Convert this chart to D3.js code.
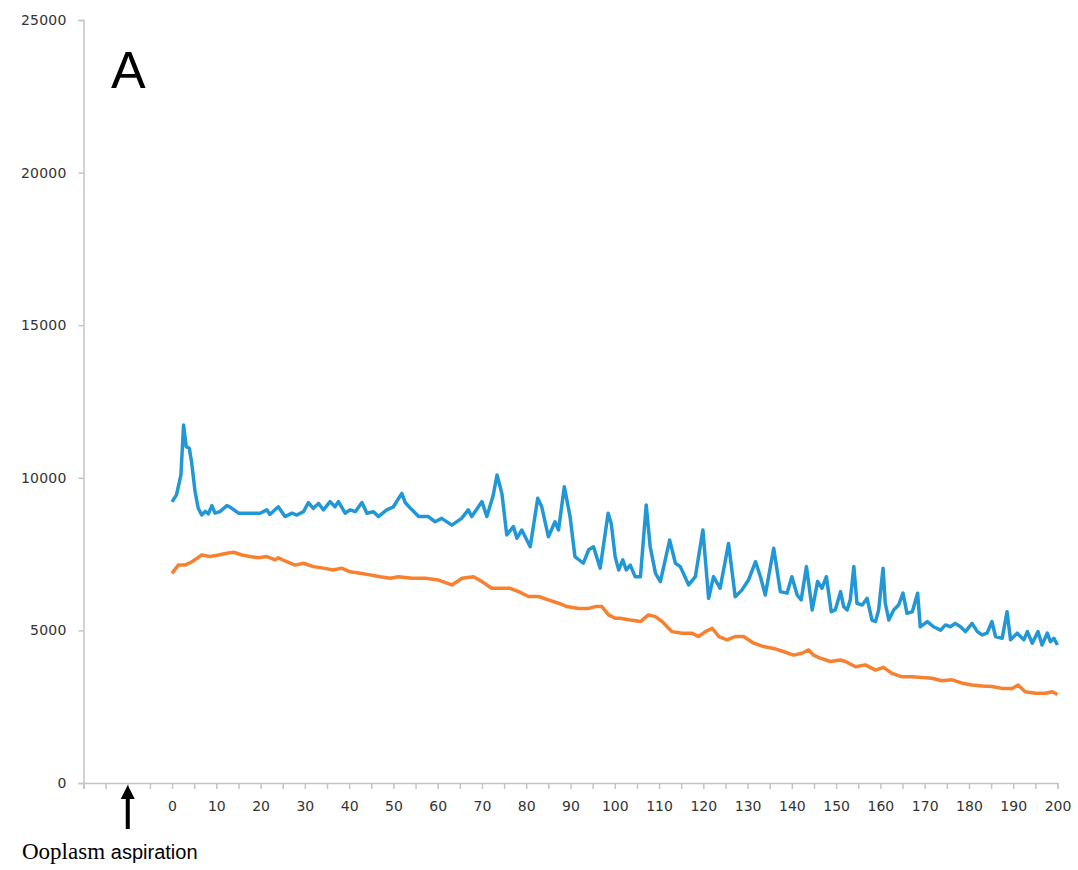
<!DOCTYPE html>
<html>
<head>
<meta charset="utf-8">
<script src="https://cdn.jsdelivr.net/npm/d3@7"></script>
<style>
  body { margin: 0; background: #fff; }
  svg { display: block; }
</style>
</head>
<body>
<svg id="chart" width="1078" height="870"></svg>
<script>
// time points (s) and intensity
var blueT = [0, 1, 2, 2.6, 3.2, 3.9, 4.4, 5.2, 5.9, 6.7, 7.5, 8.2, 9, 9.7, 10.8, 12.4, 13.5, 15, 16.9, 18.4, 19.9,
  21.4, 22.1, 24, 25.5, 27.1, 28.2, 29.7, 30.8, 31.9, 33.1, 34.2, 35.7, 36.8, 37.6, 39.1, 40.2, 41.4, 42.9, 44,
  45.5, 46.6, 48.5, 50, 51.9, 52.7, 54.2, 55.7, 57.9, 59.4, 60.9, 63.2, 65.4, 66.9, 67.7, 70, 71.1, 72.5, 73.4,
  74.5, 75.6, 77.1, 77.9, 79, 80.9, 82.6, 83.5, 85, 86.5, 87.3, 88.6, 89.9, 91, 92.9, 94.1, 95.2, 96.7, 98.5,
  99.2, 100.1, 100.9, 101.8, 102.6, 103.5, 104.6, 105.8, 107.1, 108, 109.2, 110.3, 112.4, 113.7, 114.8, 116.7,
  118.2, 119.9, 121.2, 122.3, 123.8, 125.7, 127.2, 128.7, 130.2, 131.8, 132.9, 134, 135.9, 137.4, 138.9, 140,
  141.2, 142.1, 143.3, 144.6, 145.8, 146.8, 147.8, 148.9, 149.8, 151, 151.7, 152.5, 153.2, 154, 154.7, 155.9,
  157, 158.1, 158.9, 159.6, 160.6, 161.1, 161.9, 163, 164.1, 165.1, 166, 167.2, 168.4, 169, 170.6, 172, 173.6,
  174.7, 175.8, 176.9, 178.1, 179.2, 180.7, 181.9, 183, 184.1, 185.2, 186, 187.5, 188.6, 189.4, 190.9, 192.4,
  193.2, 194.3, 195.6, 196.5, 197.7, 198.4, 199.2, 200];
var blueV = [9210, 9440, 10090, 11730, 11020, 10970, 10530, 9550, 9010, 8780, 8900, 8820, 9090, 8840, 8890, 9090, 9000, 8840, 8840, 8840, 8840,
  8950, 8800, 9050, 8730, 8840, 8780, 8890, 9190, 9000, 9160, 8950, 9220, 9050, 9220, 8840, 8950, 8890, 9190, 8840,
  8890, 8730, 8950, 9050, 9490, 9180, 8950, 8730, 8730, 8560, 8670, 8450, 8670, 8950, 8730, 9220, 8730, 9400, 10090,
  9490, 8130, 8400, 8020, 8290, 7740, 9330, 9050, 8070, 8560, 8290, 9710, 8730, 7420, 7200, 7640, 7740, 7040, 8840,
  8500, 7400, 6980, 7310, 6980, 7140, 6760, 6760, 9110, 7740, 6870, 6600, 7960, 7200, 7090, 6490,
  6760, 8290, 6050, 6760, 6380, 7850, 6100, 6320, 6650, 7250, 6760, 6160, 7690, 6270, 6220, 6760,
  6160, 6000, 7090, 5670, 6600, 6380, 6760, 5610, 5670, 6270, 5780, 5670, 6000, 7090, 5890, 5830,
  6050, 5340, 5290, 5670, 7040, 5890, 5340, 5670, 5830, 6220, 5560, 5610, 6220, 5120, 5290, 5120, 5010,
  5180, 5120, 5230, 5120, 4960, 5230, 4960, 4850, 4910, 5290, 4800, 4740, 5610, 4690, 4910, 4690,
  4960, 4580, 4960, 4520, 4910, 4630, 4740, 4520];

var orangeT = [0, 1.4, 2.9, 4.5, 5.6, 6.7, 8.6, 10.5, 12.4, 13.9, 15.8, 17.6, 19.5, 21.4, 23.3, 24, 25.9, 27.8,
  29.7, 31.9, 34.2, 36.4, 38.3, 40.2, 42.5, 44.7, 47, 49.3, 51.1, 54.2, 57.2, 60.2, 63.2, 65.5, 68.1, 70, 72.2,
  74.5, 76.4, 78.3, 80.5, 82.8, 85, 87.3, 89.2, 91.8, 94.1, 95.6, 97.1, 98.6, 100.1, 101.2, 103.5, 105.8, 107.6,
  109.2, 110.7, 112.9, 115.2, 117.4, 118.9, 120.5, 122, 123.5, 125.4, 127.2, 129.1, 131.4, 133.6, 135.9, 138.2,
  140.4, 142.3, 143.8, 144.9, 146.4, 148.7, 150.9, 152.1, 154.4, 156.6, 158.9, 160.7, 162.6, 164.9, 167.2, 169.4,
  171.7, 173.9, 176.2, 178.5, 180.7, 183, 185.2, 187.5, 189.8, 191.1, 192.7, 195, 197.3, 198.8, 200];
var orangeV = [6870, 7140, 7140, 7250, 7360, 7470, 7420, 7470, 7530, 7560, 7470, 7420, 7380, 7420, 7310, 7380, 7250, 7140,
  7200, 7090, 7040, 6980, 7040, 6920, 6870, 6820, 6760, 6710, 6760, 6710, 6710, 6650, 6490, 6710, 6760, 6600, 6380,
  6380, 6380, 6270, 6110, 6110, 6000, 5890, 5780, 5720, 5720, 5780, 5780, 5510, 5400, 5400, 5340, 5290, 5510,
  5450, 5290, 4960, 4910, 4910, 4800, 4960, 5070, 4800, 4690, 4800, 4800, 4580, 4470, 4410, 4300,
  4190, 4250, 4360, 4190, 4090, 3980, 4030, 3980, 3810, 3870, 3700, 3790, 3590, 3480, 3480, 3460,
  3430, 3350, 3380, 3270, 3210, 3180, 3160, 3100, 3100, 3210, 2990, 2940, 2940, 2990, 2900];

var yTickValues = [0, 5000, 10000, 15000, 20000, 25000];
var xTickLabels = [0, 10, 20, 30, 40, 50, 60, 70, 80, 90, 100, 110, 120, 130, 140, 150, 160, 170, 180, 190, 200];

var svg = d3.select("#chart"),
	x = d3.scaleLinear().domain([-20, 200]).range([83.5, 1057.5]),
	y = d3.scaleLinear().domain([0, 25000]).range([783, 20]),
	axisColor = "#c4c4c4",
	textColor = "#333";

// y axis
var yAxis = svg.append("g")
	.attr("transform", "translate(" + x(-20) + ",0)")
	.call(d3.axisLeft(y).tickValues(yTickValues).tickSize(5).tickPadding(12).tickFormat(d3.format("d")));
yAxis.select(".domain").attr("stroke", axisColor).attr("stroke-width", 1.5);
yAxis.selectAll(".tick line").attr("stroke", axisColor).attr("stroke-width", 1.5);
yAxis.selectAll(".tick text")
	.attr("fill", textColor)
	.style("font", "14px 'DejaVu Sans', sans-serif")
	.style("letter-spacing", "0.2px");

// x axis: minor ticks every 5 s starting at -20, labels only from 0
var xAxis = svg.append("g")
	.attr("transform", "translate(0," + y(0) + ")")
	.call(d3.axisBottom(x).tickValues(d3.range(-20, 201, 5)).tickSizeOuter(0).tickSize(6).tickPadding(12)
		.tickFormat(function(d) { return xTickLabels.indexOf(d) >= 0 ? d : ""; }));
xAxis.select(".domain").attr("stroke", axisColor).attr("stroke-width", 1.5);
xAxis.selectAll(".tick line").attr("stroke", axisColor).attr("stroke-width", 1.5);
xAxis.selectAll(".tick text")
	.attr("fill", textColor)
	.style("font", "14px 'DejaVu Sans', sans-serif");

// series
var line = d3.line()
	.x(function(d) { return x(d[0]); })
	.y(function(d) { return y(d[1]); });

svg.append("path")
	.datum(d3.zip(orangeT, orangeV))
	.attr("fill", "none")
	.attr("stroke", "#f7812f")
	.attr("stroke-width", 3.5)
	.attr("stroke-linejoin", "round")
	.attr("d", line);

svg.append("path")
	.datum(d3.zip(blueT, blueV))
	.attr("fill", "none")
	.attr("stroke", "#2297d5")
	.attr("stroke-width", 3.5)
	.attr("stroke-linejoin", "round")
	.attr("d", line);

// panel letter
svg.append("text")
	.attr("x", 111)
	.attr("y", 88)
	.attr("fill", "#000")
	.style("font", "52px 'Liberation Sans', Arial, sans-serif")
	.text("A");

// arrow marking the aspiration
var ax = x(-10);
svg.append("rect")
	.attr("x", ax - 2).attr("y", 796)
	.attr("width", 4).attr("height", 33)
	.attr("fill", "#000");
svg.append("path")
	.attr("d", "M" + ax + ",785 L" + (ax + 7) + ",799 L" + (ax - 7) + ",799 Z")
	.attr("fill", "#000");

var lab = svg.append("text")
	.attr("x", 22)
	.attr("y", 859)
	.attr("fill", "#000");
lab.append("tspan")
	.style("font", "23px 'Liberation Serif', 'Times New Roman', serif")
	.text("Ooplasm ");
lab.append("tspan")
	.style("font", "20px 'Liberation Sans', Arial, sans-serif")
	.text("aspiration");
</script>
</body>
</html>
